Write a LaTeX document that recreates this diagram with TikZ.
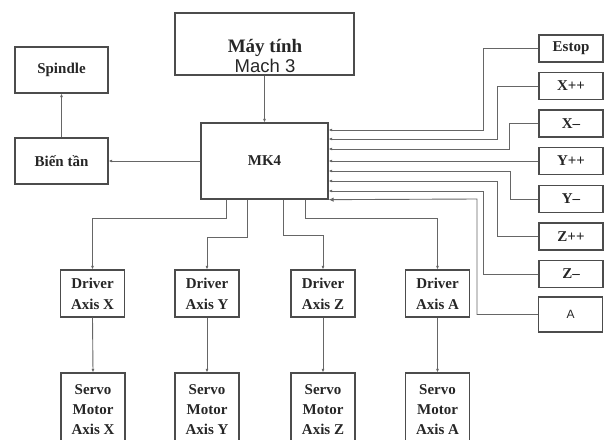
\documentclass[tikz,border=0pt]{standalone}
\usepackage{fontspec}
\setmainfont{Liberation Serif}
\newfontfamily\sansA{Liberation Sans}
\usetikzlibrary{arrows.meta}
\begin{document}
\begin{tikzpicture}[x=1pt,y=-1pt,
  box/.style={draw=black!70, line width=1.3pt, inner sep=0pt, align=center,
    text=black!85, font=\fontsize{15}{20}\selectfont\bfseries},
  rbox/.style={box, minimum width=64, minimum height=27},
  dbox/.style={box, minimum width=64, minimum height=47, font=\fontsize{15}{21}\selectfont\bfseries},
  sbox/.style={box, minimum width=64, minimum height=74, font=\fontsize{15}{20}\selectfont\bfseries},
  arr/.style={draw=black!60, line width=0.9pt, -{Latex[length=3.5pt,width=3pt]}},
  lbl/.style={inner sep=0pt, anchor=base, text=black!85}]
\useasboundingbox (0,0) rectangle (607,439);
\clip (0,0) rectangle (607,439);

% top box
\node[box, minimum width=179, minimum height=62] (pc) at (264.5,44) {};
\node[lbl, font=\fontsize{19}{19}\selectfont\bfseries] (pcA) at (265,52) {Máy tính};
\node[lbl, font=\sansA\fontsize{18.5}{19}\selectfont] (pcB) at (265,72.5) {Mach 3};

\node[box, minimum width=127, minimum height=76] (mk4) at (264.5,161) {MK4};
\node[box, minimum width=93, minimum height=46] (spindle) at (61.5,70) {Spindle};
\node[box, minimum width=93, minimum height=46] (bien) at (61.5,161) {Biến tần};

% right column
\node[rbox] (estop) at (571,48.5) {Estop};
\node[rbox] (xpp) at (571,86) {X++};
\node[rbox] (xmm) at (571,123.5) {X--};
\node[rbox] (ypp) at (571,161) {Y++};
\node[rbox] (ymm) at (571,199) {Y--};
\node[rbox] (zpp) at (571,236.5) {Z++};
\node[rbox] (zmm) at (571,274) {Z--};
\node[rbox, minimum height=35, font=\sansA\fontsize{12}{12}\selectfont] (abox) at (570.5,314.5) {A};

% drivers
\node[dbox] (drx) at (92.5,293.5) {Driver\\Axis X};
\node[dbox] (dry) at (207,293.5) {Driver\\Axis Y};
\node[dbox] (drz) at (323,293.5) {Driver\\Axis Z};
\node[dbox] (dra) at (437.5,293.5) {Driver\\Axis A};

% servos
\node[sbox] (svx) at (93,410) {Servo\\Motor\\Axis X};
\node[sbox] (svy) at (207,410) {Servo\\Motor\\Axis Y};
\node[sbox] (svz) at (323,410) {Servo\\Motor\\Axis Z};
\node[sbox] (sva) at (437.5,410) {Servo\\Motor\\Axis A};

% connectors
\draw[arr] (pc.south) -- (mk4.north);
\draw[arr] (mk4.west) -- (bien.east);
\draw[arr] (bien.north) -- (spindle.south);

\draw[arr] (estop.west) -| (483,130) -- (mk4.east |- 0,130);
\draw[arr] (xpp.west) -| (497,139) -- (mk4.east |- 0,139);
\draw[arr] (xmm.west) -| (509,149) -- (mk4.east |- 0,149);
\draw[arr] (ypp.west) -- (mk4.east |- 0,161);
\draw[arr] (ymm.west) -| (510,171) -- (mk4.east |- 0,171);
\draw[arr] (zpp.west) -| (497,181) -- (mk4.east |- 0,181);
\draw[arr] (zmm.west) -| (483,191) -- (mk4.east |- 0,191);
\draw[arr, -{Latex[length=5pt,width=4.5pt]}] (abox.west) -| (477,199) -- (mk4.south east);

\draw[arr] (mk4.south -| 226,0) -- (226,218) -| (drx.north);
\draw[arr] (mk4.south -| 247,0) -- (247,237) -| (dry.north);
\draw[arr] (mk4.south -| 283,0) -- (283,235) -| (drz.north);
\draw[arr] (mk4.south -| 305,0) -- (305,218) -| (dra.north);

\draw[arr] (drx.south) -- (svx.north);
\draw[arr] (dry.south) -- (svy.north);
\draw[arr] (drz.south) -- (svz.north);
\draw[arr] (dra.south) -- (sva.north);
\end{tikzpicture}
\end{document}
